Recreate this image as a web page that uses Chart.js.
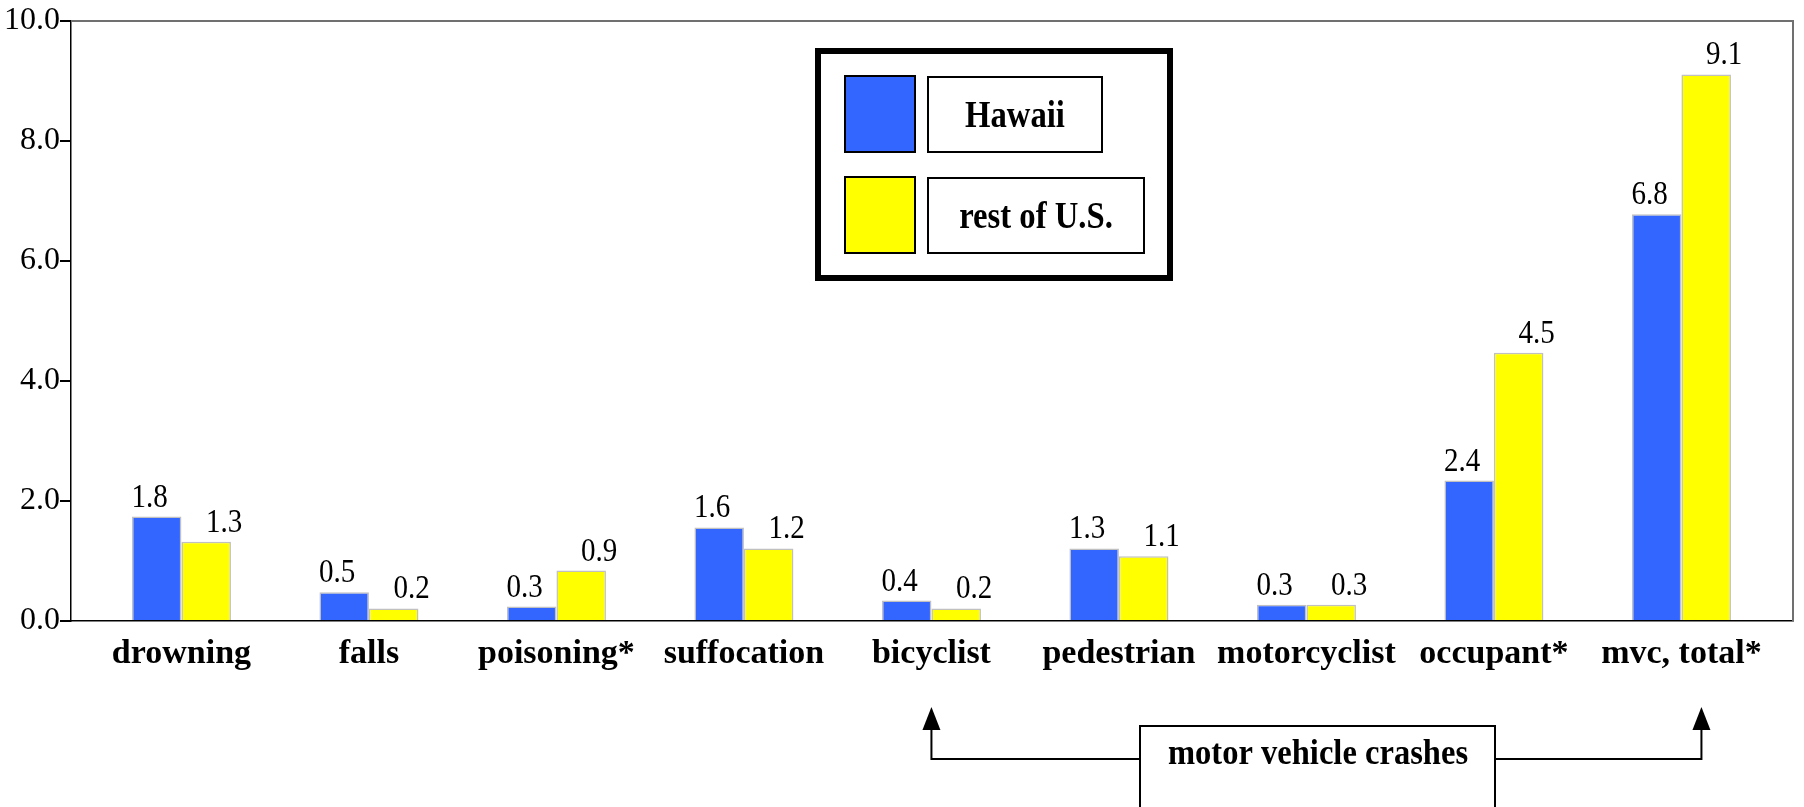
<!DOCTYPE html>
<html>
<head>
<meta charset="utf-8">
<title>Injury death rates: Hawaii vs rest of U.S.</title>
<script src="https://cdn.jsdelivr.net/npm/chart.js@4.4.1/dist/chart.umd.min.js"></script>
<style>
    body { margin: 0; background: #fff; }
    #wrap { width: 1804px; height: 807px; }
</style>
</head>
<body>
<div id="wrap"><canvas id="injuryChart" width="1804" height="807"></canvas></div>
<script>
// Chart values
const categories = ['drowning', 'falls', 'poisoning*', 'suffocation', 'bicyclist', 'pedestrian', 'motorcyclist', 'occupant*', 'mvc, total*'];
const hawaiiValues = [1.74, 0.48, 0.24, 1.56, 0.34, 1.21, 0.27, 2.34, 6.78];
const restValues = [1.32, 0.21, 0.84, 1.21, 0.21, 1.08, 0.27, 4.47, 9.11];
const hawaiiLabels = ['1.8', '0.5', '0.3', '1.6', '0.4', '1.3', '0.3', '2.4', '6.8'];
const restLabels = ['1.3', '0.2', '0.9', '1.2', '0.2', '1.1', '0.3', '4.5', '9.1'];
const yTicks = [0, 2, 4, 6, 8, 10];
const seriesNames = ['Hawaii', 'rest of U.S.'];
const groupNote = 'motor vehicle crashes';
const groupFrom = 'bicyclist';
const groupTo = 'mvc, total*';

const SERIF = '"Liberation Serif", "Times New Roman", serif';

function toPoints(values) {
    return values.map((v, i) => ({ x: i, y: v }));
}

// the source uses a narrow serif, so squeeze text drawn by hand
function narrowText(ctx, text, x, y, squeeze) {
    ctx.save();
    ctx.translate(x, y);
    ctx.scale(squeeze, 1);
    ctx.fillText(text, 0, 0);
    ctx.restore();
}

// value labels above each bar
const barLabels = {
    id: 'barLabels',
    afterDatasetsDraw(chart) {
        const ctx = chart.ctx;
        const texts = [hawaiiLabels, restLabels];
        const shifts = [-7, 18];
        ctx.save();
        ctx.font = `33px ${SERIF}`;
        ctx.fillStyle = '#000';
        ctx.textAlign = 'center';
        ctx.textBaseline = 'alphabetic';
        chart.data.datasets.forEach((ds, di) => {
            chart.getDatasetMeta(di).data.forEach((bar, i) => {
                narrowText(ctx, texts[di][i], bar.x + shifts[di], bar.y - 10, 0.88);
            });
        });
        ctx.restore();
    }
};

// grey frame on top and right, boxed legend, and the bracket under the axis
const decorations = {
    id: 'decorations',
    afterDraw(chart) {
        const ctx = chart.ctx;
        const area = chart.chartArea;
        const xScale = chart.scales.x;
        ctx.save();

        ctx.strokeStyle = '#707070';
        ctx.lineWidth = 2;
        ctx.beginPath();
        ctx.moveTo(area.left, area.top);
        ctx.lineTo(area.right, area.top);
        ctx.lineTo(area.right, area.bottom);
        ctx.stroke();

        // legend
        ctx.strokeStyle = '#000';
        ctx.lineWidth = 6;
        ctx.strokeRect(818, 51, 352, 227);
        const rows = [
            { y: 76, textW: 174 },
            { y: 177, textW: 216 }
        ];
        ctx.font = `bold 38px ${SERIF}`;
        ctx.textAlign = 'center';
        ctx.textBaseline = 'alphabetic';
        chart.data.datasets.forEach((ds, di) => {
            const r = rows[di];
            ctx.fillStyle = ds.backgroundColor;
            ctx.fillRect(845, r.y, 70, 76);
            ctx.lineWidth = 2;
            ctx.strokeStyle = '#000';
            ctx.strokeRect(845, r.y, 70, 76);
            ctx.strokeRect(928, r.y + 1, r.textW, 75);
            ctx.fillStyle = '#000';
            narrowText(ctx, ds.label, 928 + r.textW / 2, r.y + 51, 0.86);
        });

        // motor vehicle crashes bracket
        const leftX = xScale.getPixelForValue(categories.indexOf(groupFrom));
        const rightX = xScale.getPixelForValue(categories.indexOf(groupTo)) + 20;
        const lineY = 759;
        ctx.lineWidth = 2;
        ctx.strokeRect(1140, 726, 355, 120);
        ctx.beginPath();
        ctx.moveTo(leftX, 729);
        ctx.lineTo(leftX, lineY);
        ctx.lineTo(1140, lineY);
        ctx.moveTo(1495, lineY);
        ctx.lineTo(rightX, lineY);
        ctx.lineTo(rightX, 729);
        ctx.stroke();
        [leftX, rightX].forEach(x => {
            ctx.beginPath();
            ctx.moveTo(x, 707);
            ctx.lineTo(x - 9, 730);
            ctx.lineTo(x + 9, 730);
            ctx.closePath();
            ctx.fill();
        });
        ctx.font = `bold 35px ${SERIF}`;
        narrowText(ctx, groupNote, 1318, 764, 0.93);

        ctx.restore();
    }
};

new Chart(document.getElementById('injuryChart'), {
    type: 'bar',
    data: {
        datasets: [
            {
                label: seriesNames[0],
                data: toPoints(hawaiiValues),
                backgroundColor: '#3366ff',
                borderColor: '#c0c0c0',
                borderWidth: 1.5
            },
            {
                label: seriesNames[1],
                data: toPoints(restValues),
                backgroundColor: '#ffff00',
                borderColor: '#c0c0c0',
                borderWidth: 1.5
            }
        ]
    },
    options: {
        responsive: false,
        animation: false,
        devicePixelRatio: 1,
        categoryPercentage: 0.528,
        barPercentage: 1.0,
        layout: { padding: { top: 21, right: 11, left: 0, bottom: 0 } },
        plugins: {
            legend: { display: false },
            tooltip: { enabled: false }
        },
        scales: {
            x: {
                type: 'linear',
                offset: false,
                min: -0.589,
                max: 8.595,
                afterBuildTicks: scale => {
                    scale.ticks = categories.map((c, i) => ({ value: i }));
                },
                afterFit: scale => { scale.height = 186; },
                grid: { display: false, drawTicks: false, offset: false },
                border: { display: true, color: '#000', width: 1.5 },
                ticks: {
                    autoSkip: false,
                    maxRotation: 0,
                    padding: 13,
                    color: '#000',
                    font: { family: SERIF, size: 34, weight: 'bold' },
                    callback: v => categories[v] ?? ''
                }
            },
            y: {
                min: 0,
                max: 10,
                afterBuildTicks: scale => {
                    scale.ticks = yTicks.map(v => ({ value: v }));
                },
                afterFit: scale => { scale.width = 71; },
                grid: { drawOnChartArea: false, tickLength: 11, color: '#000', lineWidth: 2 },
                border: { display: true, color: '#000', width: 1.5 },
                ticks: {
                    padding: 0,
                    color: '#000',
                    font: { family: SERIF, size: 32 },
                    callback: v => v.toFixed(1)
                }
            }
        }
    },
    plugins: [barLabels, decorations]
});
</script>
</body>
</html>
